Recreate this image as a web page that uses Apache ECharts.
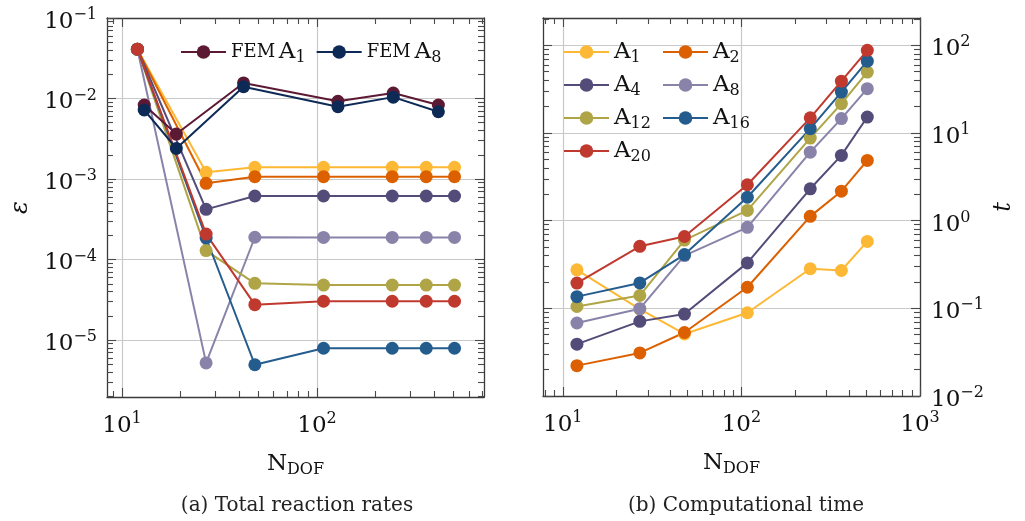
<!DOCTYPE html>
<html><head><meta charset="utf-8">
<script src="https://cdn.jsdelivr.net/npm/echarts@6/dist/echarts.min.js"></script>
<style>html,body{margin:0;padding:0;background:#fff}#c{width:1025px;height:521px}</style>
</head><body><div id="c"></div>
<script>
// ---------- data ----------
const nDof    = [12, 27, 48, 108, 243, 363, 507];
const nDofFem = [13, 19, 42, 128, 246, 419];

// (a) total reaction rates, relative error
const epsA1  = [0.041, 1.21e-3, 1.40e-3, 1.40e-3, 1.40e-3, 1.40e-3, 1.40e-3];
const epsA2  = [0.041, 8.85e-4, 1.07e-3, 1.07e-3, 1.07e-3, 1.07e-3, 1.07e-3];
const epsA4  = [0.041, 4.2e-4, 6.15e-4, 6.15e-4, 6.15e-4, 6.15e-4, 6.15e-4];
const epsA8  = [0.041, 5.2e-6, 1.89e-4, 1.88e-4, 1.88e-4, 1.88e-4, 1.88e-4];
const epsA12 = [0.041, 1.29e-4, 5.06e-5, 4.82e-5, 4.82e-5, 4.82e-5, 4.82e-5];
const epsA16 = [0.041, 1.85e-4, 4.93e-6, 7.9e-6, 7.9e-6, 7.9e-6, 7.9e-6];
const epsA20 = [0.041, 2.07e-4, 2.75e-5, 3.03e-5, 3.03e-5, 3.03e-5, 3.03e-5];
const epsFemA1 = [8.3e-3, 3.62e-3, 1.56e-2, 9.25e-3, 1.17e-2, 8.3e-3];
const epsFemA8 = [7.2e-3, 2.4e-3, 1.40e-2, 7.9e-3, 1.04e-2, 6.85e-3];

// (b) computational time
const tA1  = [0.275, 0.098, 0.051, 0.089, 0.283, 0.27, 0.58];
const tA2  = [0.0222, 0.031, 0.053, 0.174, 1.12, 2.17, 4.87];
const tA4  = [0.039, 0.071, 0.086, 0.33, 2.31, 5.55, 15.2];
const tA8  = [0.068, 0.099, 0.40, 0.84, 6.05, 14.6, 32];
const tA12 = [0.105, 0.14, 0.60, 1.31, 8.75, 21.6, 49.5];
const tA16 = [0.136, 0.195, 0.41, 1.85, 11.2, 29.3, 66];
const tA20 = [0.194, 0.51, 0.66, 2.57, 14.9, 39, 87.7];

const seriesNames = ['A1', 'A2', 'A4', 'A8', 'A12', 'A16', 'A20'];
const femNames = ['FEM A1', 'FEM A8'];
const captions = ['(a) Total reaction rates', '(b) Computational time'];

// ---------- style ----------
const FONT = 'DejaVu Serif';
const colors = {A1:'#fdb935', A2:'#dc6000', A4:'#534b78', A8:'#8983a9', A12:'#b0a546', A16:'#245c8e', A20:'#c0392f',
                'FEM A1':'#5c1934', 'FEM A8':'#0d2a56'};
const AXC = '#3a3a3a';
const TKC = '#4a4a4a';
const L10 = Math.log10;

function minorTicks(lo, hi) {
  const out = [];
  for (let e = -7; e <= 4; e++) for (let m = 2; m <= 9; m++) {
    const v = m * Math.pow(10, e);
    if (v >= lo && v <= hi * 1.0001) out.push(L10(v));
  }
  return out;
}
function majorTicks(lo, hi) {
  const out = [];
  for (let e = -7; e <= 4; e++) {
    const v = parseFloat(Math.pow(10, e).toPrecision(4));
    if (v >= lo * 0.9999 && v <= hi * 1.0001) out.push(v);
  }
  return out;
}
function pow10Label(v) {
  const e = Math.round(Math.log10(v));
  return '{b|10}{s|' + (e < 0 ? '\u2212' + (-e) : e) + '}';
}
const labelRich = {
  b: {fontFamily: FONT, fontSize: 23, lineHeight: 30, color: '#111'},
  s: {fontFamily: FONT, fontSize: 16, lineHeight: 16, padding: [0, 0, 14, 0], color: '#111'}
};

// one log axis for data + labels, and value overlays (log10 units) carrying pgfplots-like ticks
function axisSet(gridIndex, lo, hi, o) {
  const opp = {left:'right', right:'left', top:'bottom', bottom:'top'};
  const posA = o.pos, posB = opp[posA];
  const main = {
    type: 'log', logBase: 10, gridIndex: gridIndex, min: lo, max: hi, position: posA,
    axisLine: {show: true, onZero: false, lineStyle: {color: AXC, width: 1.3}},
    axisTick: {show: false}, minorTick: {show: false}, splitLine: {show: false},
    axisLabel: {show: true, customValues: majorTicks(lo, hi), formatter: pow10Label, rich: labelRich,
      margin: o.margin, padding: o.labelPadding || 0, showMinLabel: true, showMaxLabel: true, hideOverlap: false},
    name: o.name || '', nameLocation: 'middle', nameGap: o.nameGap || 0, nameRotate: o.nameRotate || 0,
    nameTextStyle: o.nameTextStyle || {}
  };
  const vb = {type: 'value', gridIndex: gridIndex, min: L10(lo), max: L10(hi), axisLabel: {show: false}};
  const minA = Object.assign({}, vb, {position: posA,
    axisLine: {show: false, onZero: false}, splitLine: {show: false},
    axisTick: {show: true, inside: true, length: 6, customValues: minorTicks(lo, hi), lineStyle: {color: TKC, width: 1.1}}});
  const minB = Object.assign({}, vb, {position: posB,
    axisLine: {show: true, onZero: false, lineStyle: {color: AXC, width: 1.3}}, splitLine: {show: false},
    axisTick: {show: true, inside: true, length: 6, customValues: minorTicks(lo, hi), lineStyle: {color: TKC, width: 1.1}}});
  const majVals = majorTicks(lo, hi).map(L10);
  const majA = Object.assign({}, vb, {position: posA,
    axisLine: {show: false, onZero: false},
    axisTick: {show: true, inside: true, length: 9, customValues: majVals, lineStyle: {color: TKC, width: 1.1}},
    splitLine: {show: true, lineStyle: {color: '#c9c9c9', width: 1.2}}});
  const majB = Object.assign({}, vb, {position: posB,
    axisLine: {show: false, onZero: false}, splitLine: {show: false},
    axisTick: {show: true, inside: true, length: 9, customValues: majVals, lineStyle: {color: TKC, width: 1.1}}});
  return [main, minA, minB, majA, majB];
}
const PER = 5;

const nDofName = '{n|N}{d|DOF}';
const nDofStyle = {rich: {
  n: {fontFamily: FONT, fontSize: 23, lineHeight: 30, color: '#111'},
  d: {fontFamily: FONT, fontSize: 16, lineHeight: 16, padding: [12, 0, 0, 0], color: '#111'}
}};
const symName = {fontFamily: FONT, fontSize: 24, fontStyle: 'italic', color: '#111'};

const xAxes = [].concat(
  axisSet(0, 8.38, 718, {pos: 'bottom', margin: 14, name: nDofName, nameGap: 52, nameTextStyle: nDofStyle}),
  axisSet(1, 7.75, 1000, {pos: 'bottom', margin: 14, name: nDofName, nameGap: 52, nameTextStyle: nDofStyle})
);
const yAxes = [].concat(
  axisSet(0, 1.96e-6, 0.1, {pos: 'left', margin: 10, labelPadding: [8, 0, 0, 0], name: 'ε', nameGap: 74, nameRotate: 90, nameTextStyle: symName}),
  axisSet(1, 0.01, 205, {pos: 'right', margin: 11, labelPadding: [8, 0, 0, 0], name: 't', nameGap: 72, nameRotate: 90, nameTextStyle: symName})
);

function lineSeries(name, xs, ys, gi, legendName) {
  return {
    name: legendName, type: 'line', xAxisIndex: gi * PER, yAxisIndex: gi * PER,
    data: xs.map((x, i) => [x, ys[i]]),
    symbol: 'circle', symbolSize: 13, showSymbol: true,
    lineStyle: {width: 2, color: colors[name]},
    itemStyle: {color: colors[name]},
    emphasis: {disabled: true}, animation: false
  };
}

const epsData = [epsA1, epsA2, epsA4, epsA8, epsA12, epsA16, epsA20];
const tData = [tA1, tA2, tA4, tA8, tA12, tA16, tA20];
const series = [];
seriesNames.forEach((n, i) => series.push(lineSeries(n, nDof, epsData[i], 0, 'eps ' + n)));
series.push(lineSeries('FEM A1', nDofFem, epsFemA1, 0, 'FEM A1'));
series.push(lineSeries('FEM A8', nDofFem, epsFemA8, 0, 'FEM A8'));
seriesNames.forEach((n, i) => series.push(lineSeries(n, nDof, tData[i], 1, n)));

function legendFmt(name) {
  const m = name.match(/^(FEM )?A(\d+)$/);
  return (m[1] ? '{f|FEM} ' : '') + '{a|A}{s|' + m[2] + '}';
}
const legendText = {
  fontFamily: FONT, color: '#111',
  rich: {
    f: {fontFamily: FONT, fontSize: 18, lineHeight: 28, color: '#111'},
    a: {fontFamily: FONT, fontSize: 23, lineHeight: 28, color: '#111'},
    s: {fontFamily: FONT, fontSize: 16, lineHeight: 16, padding: [12, 0, 0, 0], color: '#111'}
  }
};
const legendBase = {itemWidth: 45, itemHeight: 17, formatter: legendFmt, textStyle: legendText,
  selectedMode: false, backgroundColor: 'transparent', padding: 0};

const option = {
  animation: false,
  backgroundColor: '#fff',
  title: [
    {text: captions[0], left: 292, top: 491, textAlign: 'center', textStyle: {fontFamily: FONT, fontSize: 20, fontWeight: 'normal', color: '#222'}},
    {text: captions[1], left: 741, top: 491, textAlign: 'center', textStyle: {fontFamily: FONT, fontSize: 20, fontWeight: 'normal', color: '#222'}}
  ],
  grid: [
    {left: 107, top: 18, width: 377, height: 379, containLabel: false, outerBoundsMode: 'none'},
    {left: 543, top: 18, width: 377, height: 378, containLabel: false, outerBoundsMode: 'none'}
  ],
  legend: [
    Object.assign({}, legendBase, {data: femNames, left: 180, top: 38, orient: 'horizontal', itemGap: 10}),
    Object.assign({}, legendBase, {data: ['A1', 'A4', 'A12', 'A20'], left: 563, top: 38, orient: 'vertical', itemGap: 5}),
    Object.assign({}, legendBase, {data: ['A2', 'A8', 'A16'], left: 662, top: 38, orient: 'vertical', itemGap: 5})
  ],
  xAxis: xAxes,
  yAxis: yAxes,
  series: series
};
const chart = echarts.init(document.getElementById('c'), null, {renderer: 'canvas'});
chart.setOption(option);
</script></body></html>
